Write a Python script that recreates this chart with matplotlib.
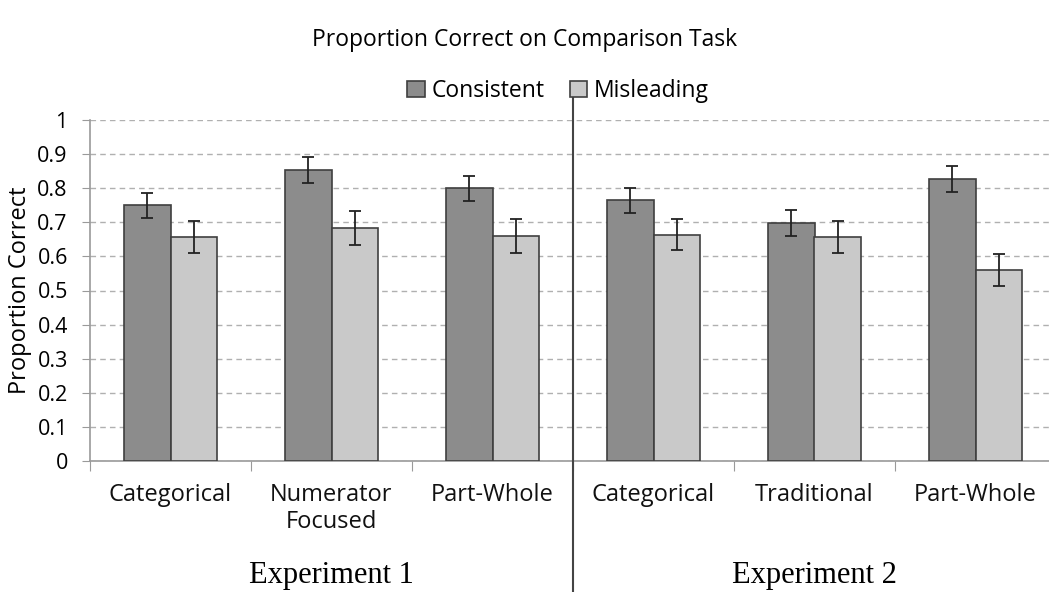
import numpy as np
import matplotlib
matplotlib.use("Agg")
import matplotlib.pyplot as plt

# data
categories = ["Categorical", "Numerator\nFocused", "Part-Whole",
              "Categorical", "Traditional", "Part-Whole"]
consistent = [0.750, 0.853, 0.800, 0.764, 0.698, 0.827]
consistent_err = [0.037, 0.038, 0.037, 0.038, 0.037, 0.037]
misleading = [0.657, 0.683, 0.660, 0.664, 0.657, 0.560]
misleading_err = [0.047, 0.049, 0.049, 0.046, 0.047, 0.046]
experiments = ["Experiment 1", "Experiment 2"]
yticks = [0, 0.1, 0.2, 0.3, 0.4, 0.5, 0.6, 0.7, 0.8, 0.9, 1]
ytick_labels = ["0", "0.1", "0.2", "0.3", "0.4", "0.5", "0.6", "0.7", "0.8", "0.9", "1"]

plt.rcParams['font.family'] = ['Open Sans', 'DejaVu Sans']

W, H = 1049, 592
fig = plt.figure(figsize=(W / 100, H / 100), dpi=100)
ax = fig.add_axes([90 / W, 131 / H, 966 / W, 341 / H])

x = np.arange(len(categories))
bw = 0.29
dark = "#8c8c8c"
light = "#c9c9c9"
edge = "#3f3f3f"

ax.bar(x - bw / 2, consistent, bw, color=dark, edgecolor=edge, linewidth=1.2,
       label="Consistent", zorder=3)
ax.bar(x + bw / 2, misleading, bw, color=light, edgecolor=edge, linewidth=1.2,
       label="Misleading", zorder=3)
ax.errorbar(x - bw / 2, consistent, yerr=consistent_err, fmt="none",
            ecolor="#222222", elinewidth=1.3, capsize=4, capthick=1.3, zorder=4)
ax.errorbar(x + bw / 2, misleading, yerr=misleading_err, fmt="none",
            ecolor="#222222", elinewidth=1.3, capsize=4, capthick=1.3, zorder=4)

ax.set_xlim(-0.5, len(categories) - 0.5)
ax.set_ylim(0, 1)
ax.set_yticks(yticks)
ax.set_yticklabels(ytick_labels, fontsize=15.5)
ax.yaxis.grid(True, linestyle=(0, (4, 3)), color="#b0b0b0", linewidth=1.0, zorder=0)
ax.tick_params(axis="y", length=6, color="#9a9a9a", pad=10)

# category boundary ticks on the x axis
ax.set_xticks(np.arange(-0.5, len(categories), 1.0))
ax.set_xticklabels([])
ax.tick_params(axis="x", length=7, color="#9a9a9a")
for xi, lab in zip(x, categories):
    ax.text(xi, -0.065, lab, ha="center", va="top", fontsize=17,
            linespacing=1.15, transform=ax.get_xaxis_transform(), color="#111111")

for s in ["top", "right"]:
    ax.spines[s].set_visible(False)
ax.spines["left"].set_color("#9a9a9a")
ax.spines["bottom"].set_color("#9a9a9a")
ax.spines["left"].set_linewidth(1.2)
ax.spines["bottom"].set_linewidth(1.2)

ax.set_ylabel("Proportion Correct", fontsize=17, labelpad=4)

# divider between experiments
ax.plot([2.5, 2.5], [1.07, -0.38], color="#444444", linewidth=1.5,
        transform=ax.get_xaxis_transform(), clip_on=False, zorder=5)

for i, name in enumerate(experiments):
    ax.text(1 + 3 * i, -0.335, name, ha="center", va="center", fontsize=22,
            family=["Liberation Serif"], transform=ax.get_xaxis_transform())

fig.text(525 / W, 1 - 40 / H, "Proportion Correct on Comparison Task",
         ha="center", va="center", fontsize=16.5)

leg = ax.legend(loc="center", bbox_to_anchor=(558 / W, 1 - 91 / H),
                bbox_transform=fig.transFigure, ncol=2, frameon=False,
                fontsize=16.5, handlelength=0.75, handleheight=0.75,
                handletextpad=0.3, columnspacing=1.1)

fig.savefig("out.png", dpi=100)
